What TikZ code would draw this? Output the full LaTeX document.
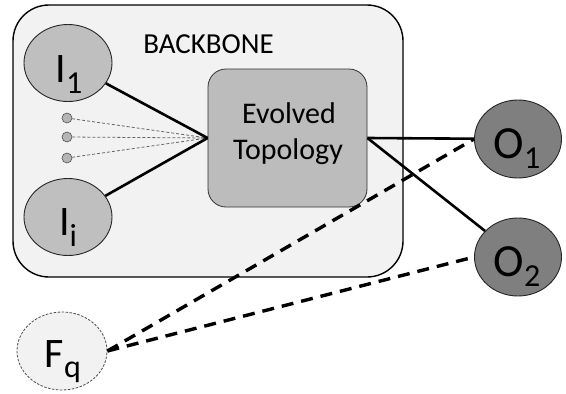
\documentclass[tikz,border=0pt]{standalone}
\usepackage{fontspec}
\setmainfont{Carlito}
\usetikzlibrary{shapes.geometric}
\definecolor{bbfill}{HTML}{F2F2F2}
\definecolor{infill}{HTML}{BFBFBF}
\definecolor{evofill}{HTML}{BCBCBC}
\definecolor{outfill}{HTML}{7F7F7F}
\definecolor{dotfill}{HTML}{B5B5B5}
\newcommand\fsz[1]{\fontsize{#1pt}{#1pt}\selectfont}
\newcommand\lbl[4]{\fsz{#1}#2\raisebox{-#4pt}{\fsz{32}#3}}
\begin{document}
\begin{tikzpicture}[x=1pt,y=-1pt,
  bbox/.style={draw=black, line width=1.4pt, fill=bbfill, rounded corners=36pt,
    minimum width=390pt, minimum height=272pt, inner sep=0},
  evobox/.style={draw=black!80, line width=0.8pt, fill=evofill, rounded corners=18pt,
    minimum width=159pt, minimum height=138pt, inner sep=0},
  inode/.style={ellipse, draw=black!85, line width=0.9pt, fill=infill,
    minimum width=88pt, minimum height=77pt, inner sep=0},
  onode/.style={ellipse, draw=black!85, line width=0.9pt, fill=outfill,
    minimum width=87pt, minimum height=78pt, inner sep=0},
  fnode/.style={ellipse, draw=black!70, line width=0.8pt, dash pattern=on 2.5pt off 1.5pt,
    fill=bbfill, minimum width=90pt, minimum height=78pt, inner sep=0},
  dotnode/.style={circle, draw=black!70, line width=0.6pt, fill=dotfill,
    minimum size=10pt, inner sep=0},
  txt/.style={inner sep=0, anchor=base},
  solidlink/.style={draw=black, line width=2.6pt},
  dotlink/.style={draw=black!60, line width=0.8pt, dash pattern=on 3pt off 2pt},
  flink/.style={draw=black, line width=3.4pt, dash pattern=on 12pt off 8pt}
]
\useasboundingbox (0,0) rectangle (566,394);

\node[bbox] (bb) at (208,141) {};
\node[txt, font=\fsz{29}] (bbt) at (208.5,53) {BACKBONE};

\node[evobox] (evo) at (287.5,138) {};
\node[txt, font=\fsz{30}] (evo1) at (289,123) {Evolved};
\node[txt, font=\fsz{30}] (evo2) at (288,159) {Topology};

\node[inode] (i1) at (68,63) {};
\node[inode] (ii) at (68,217) {};
\node[txt] (i1t) at (69,82) {\lbl{42}{I}{1}{11}};
\node[txt] (iit) at (68,235) {\lbl{42}{I}{i}{11}};

\node[dotnode] (d1) at (67,118) {};
\node[dotnode] (d2) at (67,137) {};
\node[dotnode] (d3) at (67,158) {};

\node[onode] (o1) at (518,139) {};
\node[onode] (o2) at (518,257) {};
\node[txt] (o1t) at (517,158) {\lbl{46}{O}{1}{10}};
\node[txt] (o2t) at (517,276) {\lbl{46}{O}{2}{10}};

\node[fnode] (fq) at (62,351) {};
\node[txt] (fqt) at (63,367) {\lbl{42}{F}{q}{10}};

\draw[dotlink] (d1) -- (evo.west);
\draw[dotlink] (d2) -- (evo.west);
\draw[dotlink] (d3) -- (evo.west);
\draw[solidlink] (i1) -- (evo.west);
\draw[solidlink] (ii) -- (evo.west);
\draw[solidlink] (evo.east) -- (o1);
\draw[solidlink] (evo.east) -- (o2);
\draw[flink] (fq.east) -- (o1.west);
\draw[flink] (fq.east) -- (o2.west);
\end{tikzpicture}
\end{document}
